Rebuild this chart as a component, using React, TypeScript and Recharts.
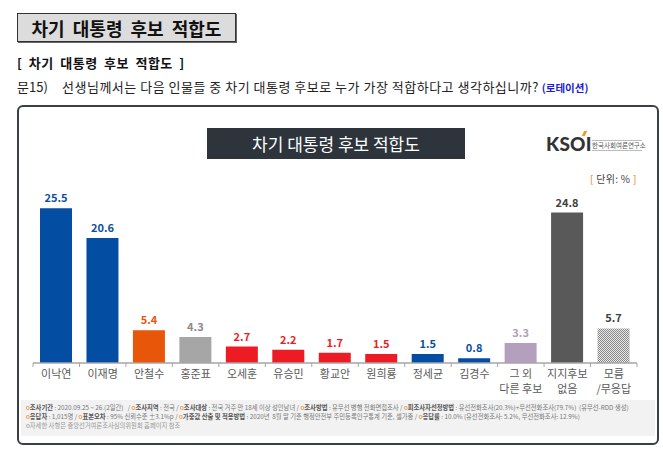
import React from 'react';
import { BarChart, Bar, XAxis, YAxis, Cell } from 'recharts';

const candidates = [
  '이낙연',
  '이재명',
  '안철수',
  '홍준표',
  '오세훈',
  '유승민',
  '황교안',
  '원희룡',
  '정세균',
  '김경수',
  '그 외\n다른 후보',
  '지지후보\n없음',
  '모름\n/무응답',
];

const values = [25.5, 20.6, 5.4, 4.3, 2.7, 2.2, 1.7, 1.5, 1.5, 0.8, 3.3, 24.8, 5.7];

const barColors = [
  '#034ea2',
  '#034ea2',
  '#e8560a',
  '#a6a6a6',
  '#ed1c24',
  '#ed1c24',
  '#ed1c24',
  '#ed1c24',
  '#034ea2',
  '#034ea2',
  '#b59fbf',
  '#595959',
  'url(#dots)',
];

const labelColors = [
  '#0b4ea2',
  '#0b4ea2',
  '#e8560a',
  '#8c8c8c',
  '#ed1c24',
  '#ed1c24',
  '#ed1c24',
  '#ed1c24',
  '#0b4ea2',
  '#0b4ea2',
  '#b59fbf',
  '#404040',
  '#404040',
];

const footerLines = [
  [
    ['조사기간', ' : 2020.09.25 ~ 26.(2일간)   / '],
    ['조사지역', ' : 전국 / '],
    ['조사대상', ' : 전국 거주 만 18세 이상 성인남녀 / '],
    ['조사방법', ' : 유무선 병행 전화면접조사 / '],
    ['피조사자선정방법', ' : 유선전화조사(20.3%)+무선전화조사(79.7%)  (유무선-RDD 생성)'],
  ],
  [
    ['응답자', ' : 1,015명 / '],
    ['표본오차', ' : 95% 신뢰수준 ±3.1%p / '],
    ['가중값 산출 및 적용방법', ' : 2020년  8월 말 기준 행정안전부 주민등록인구통계 기준, 셀가중 / '],
    ['응답률', ' : 10.0% (유선전화조사: 5.2%, 무선전화조사: 12.9%)'],
  ],
];

const data = candidates.map((name, i) => ({ name, value: values[i] }));

const KR = '"Noto Sans CJK KR", "Noto Sans", sans-serif';

const CategoryTick = (props: any) => {
  const { x, y, payload, index } = props;
  const half = payload?.offset || 23.2;
  const lines = String(payload.value).split('\n');
  return (
    <g>
      <line x1={x - half} y1={y} x2={x - half} y2={y + 4} stroke="#a6a6a6" strokeWidth={1} />
      {index === candidates.length - 1 && (
        <line x1={x + half} y1={y} x2={x + half} y2={y + 4} stroke="#a6a6a6" strokeWidth={1} />
      )}
      <text textAnchor="middle" fill="#595959" fontSize={11} fontFamily={KR}>
        {lines.map((line, i) => (
          <tspan key={i} x={x} y={y + 15 + i * 14.5}>
            {line}
          </tspan>
        ))}
      </text>
    </g>
  );
};

const ValueLabel = (props: any) => {
  const { x, y, width, value, index } = props;
  return (
    <text
      x={x + width / 2}
      y={y - 6}
      textAnchor="middle"
      fill={labelColors[index]}
      fontSize={11}
      fontWeight={700}
      fontFamily={KR}
    >
      {value}
    </text>
  );
};

export default function App() {
  return (
    <div
      style={{
        position: 'absolute',
        left: 0,
        top: 0,
        width: 663,
        height: 452,
        background: '#fff',
        fontFamily: KR,
        overflow: 'hidden',
      }}
    >
      {/* page title box */}
      <div
        style={{
          position: 'absolute',
          left: 17,
          top: 13,
          width: 217,
          height: 27,
          background: '#dcdcdc',
          border: '1.5px solid #333',
          boxShadow: '1px 1px 0 #666',
          display: 'flex',
          alignItems: 'center',
          justifyContent: 'center',
          fontSize: 18,
          fontWeight: 700,
          color: '#111',
          wordSpacing: 4,
        }}
      >
        차기 대통령 후보 적합도
      </div>
      <div
        style={{
          position: 'absolute',
          left: 17,
          top: 53,
          fontSize: 13,
          fontWeight: 700,
          color: '#111',
          whiteSpace: 'pre',
          wordSpacing: 3,
          letterSpacing: 0.5,
        }}
      >
        [ 차기 대통령 후보 적합도 ]
      </div>
      <div
        style={{
          position: 'absolute',
          left: 17,
          top: 77,
          fontSize: 13,
          color: '#222',
          whiteSpace: 'pre',
        }}
      >
        문15)
        <span style={{ position: 'absolute', left: 45, top: 0, whiteSpace: 'pre' }}>
          <span style={{ letterSpacing: 0.5 }}>
            선생님께서는 다음 인물들 중 차기 대통령 후보로 누가 가장 적합하다고 생각하십니까?
          </span>{' '}
          <span style={{ color: '#1a1adb', fontWeight: 700, fontSize: 10.5 }}>(로테이션)</span>
        </span>
      </div>

      {/* chart frame */}
      <div
        style={{
          position: 'absolute',
          left: 17,
          top: 105,
          width: 638,
          height: 336,
          border: '2px solid #3a3f47',
          borderRadius: 6,
        }}
      />
      <div
        style={{
          position: 'absolute',
          left: 207,
          top: 128,
          width: 258,
          height: 31,
          background: '#2d343c',
          color: '#fff',
          fontSize: 17,
          display: 'flex',
          alignItems: 'center',
          justifyContent: 'center',
        }}
      >
        차기 대통령 후보 적합도
      </div>

      {/* logo */}
      <div
        style={{
          position: 'absolute',
          left: 546,
          top: 132,
          fontFamily: 'Lato, sans-serif',
          fontWeight: 900,
          fontSize: 19,
          color: '#333',
          letterSpacing: 0.2,
        }}
      >
        KSOI
      </div>
      <div
        style={{
          position: 'absolute',
          left: 583,
          top: 131,
          width: 3,
          height: 5,
          background: '#f39a1e',
          transform: 'skewX(-25deg)',
        }}
      />
      <div
        style={{
          position: 'absolute',
          left: 592,
          top: 140,
          width: 50,
          borderTop: '1px solid #bbb',
          borderBottom: '1px solid #bbb',
          fontSize: 6.5,
          color: '#555',
          lineHeight: '9px',
          whiteSpace: 'pre',
        }}
      >
        한국사회여론연구소
      </div>
      <div
        style={{
          position: 'absolute',
          left: 590,
          top: 171,
          fontSize: 10,
          color: '#444',
          whiteSpace: 'pre',
          letterSpacing: 0.3,
        }}
      >
        <span style={{ color: '#e8810a' }}>[</span> 단위: % <span style={{ color: '#e8810a' }}>]</span>
      </div>

      {/* footer */}
      <div
        style={{
          position: 'absolute',
          left: 21,
          top: 400,
          width: 634,
          height: 36,
          background: '#f2f2f2',
        }}
      />
      {footerLines.map((line, li) => (
        <div
          key={li}
          style={{
            position: 'absolute',
            left: 26,
            top: 404 + li * 9,
            fontSize: 6.3,
            lineHeight: '8px',
            color: '#777',
            whiteSpace: 'pre',
          }}
        >
          {line.map(([k, v], i) => (
            <span key={i}>
              <span style={{ color: '#e8810a' }}>o</span>
              <b style={{ color: '#555' }}>{k}</b>
              {v}
            </span>
          ))}
        </div>
      ))}
      <div
        style={{
          position: 'absolute',
          left: 26,
          top: 422,
          fontSize: 6.3,
          lineHeight: '8px',
          color: '#999',
          whiteSpace: 'pre',
        }}
      >
        o자세한 사항은 중앙선거여론조사심의위원회 홈페이지 참조
      </div>

      <div style={{ position: 'absolute', left: 0, top: 0 }}>
        <BarChart
          width={663}
          height={400}
          data={data}
          margin={{ top: 181, right: 26, left: 33, bottom: 0 }}
        >
          <defs>
            <pattern id="dots" width={2} height={2} patternUnits="userSpaceOnUse">
              <rect width={2} height={2} fill="#e6e6e6" />
              <rect width={1} height={1} fill="#8a8a8a" />
              <rect x={1} y={1} width={1} height={1} fill="#8a8a8a" />
            </pattern>
          </defs>
          <XAxis
            dataKey="name"
            interval={0}
            height={37}
            axisLine={{ stroke: '#a6a6a6', strokeWidth: 1.5 }}
            tickLine={false}
            tickSize={0}
            tickMargin={0}
            tick={<CategoryTick />}
          />
          <YAxis hide domain={[0, 30]} />
          <Bar
            dataKey="value"
            barSize={32}
            isAnimationActive={false}
            label={<ValueLabel />}
          >
            {data.map((entry, index) => (
              <Cell key={`cell-${index}`} fill={barColors[index]} />
            ))}
          </Bar>
        </BarChart>
      </div>
    </div>
  );
}
